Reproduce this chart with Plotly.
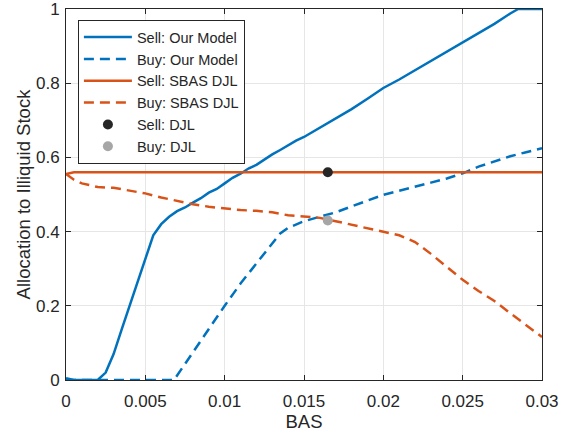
import plotly.graph_objects as go

# ---- data ----
sell_model_x = [0, 0.0005, 0.001, 0.0015, 0.002, 0.0025, 0.003, 0.0035, 0.004, 0.0045, 0.005,
                0.0055, 0.006, 0.0065, 0.007, 0.0075, 0.008, 0.0085, 0.009, 0.0095, 0.01,
                0.0105, 0.011, 0.0115, 0.012, 0.0125, 0.013, 0.0135, 0.014, 0.0145, 0.015,
                0.016, 0.017, 0.018, 0.019, 0.02, 0.021, 0.022, 0.023, 0.024, 0.025,
                0.026, 0.027, 0.028, 0.0285, 0.029, 0.03]
sell_model_y = [0.005, 0.0, 0.0, 0.0, 0.0, 0.02, 0.07, 0.135, 0.2, 0.265, 0.33,
                0.39, 0.42, 0.44, 0.455, 0.465, 0.478, 0.49, 0.505, 0.515, 0.53,
                0.545, 0.556, 0.57, 0.58, 0.595, 0.608, 0.62, 0.633, 0.645, 0.655,
                0.68, 0.705, 0.73, 0.758, 0.787, 0.81, 0.835, 0.86, 0.885, 0.911,
                0.935, 0.96, 0.988, 1.0, 1.0, 1.0]

buy_model_x = [0, 0.0065, 0.0068, 0.007, 0.008, 0.009, 0.01, 0.011, 0.012, 0.013, 0.0135,
               0.014, 0.0145, 0.015, 0.016, 0.017, 0.018, 0.019, 0.02, 0.021, 0.022,
               0.023, 0.024, 0.025, 0.026, 0.027, 0.028, 0.029, 0.03]
buy_model_y = [0.0, 0.0, 0.0, 0.012, 0.075, 0.14, 0.2, 0.26, 0.315, 0.37, 0.395,
               0.41, 0.42, 0.428, 0.44, 0.452, 0.468, 0.484, 0.499, 0.51, 0.52,
               0.532, 0.543, 0.557, 0.575, 0.59, 0.603, 0.614, 0.625]

sell_sbas_x = [0, 0.0005, 0.03]
sell_sbas_y = [0.555, 0.56, 0.56]

buy_sbas_x = [0, 0.0005, 0.001, 0.002, 0.003, 0.004, 0.005, 0.006, 0.007, 0.008, 0.009,
              0.01, 0.011, 0.012, 0.013, 0.014, 0.015, 0.016, 0.017, 0.018, 0.019,
              0.02, 0.021, 0.022, 0.023, 0.024, 0.025, 0.026, 0.027, 0.028, 0.029, 0.03]
buy_sbas_y = [0.555, 0.54, 0.53, 0.52, 0.518, 0.51, 0.503, 0.492, 0.482, 0.474, 0.467,
              0.462, 0.458, 0.456, 0.452, 0.444, 0.441, 0.437, 0.428, 0.418, 0.41,
              0.4, 0.39, 0.372, 0.34, 0.305, 0.27, 0.24, 0.213, 0.18, 0.148, 0.116]

sell_djl = (0.0165, 0.56)
buy_djl = (0.0165, 0.43)

x_ticks = [0, 0.005, 0.01, 0.015, 0.02, 0.025, 0.03]
x_tick_labels = ["0", "0.005", "0.01", "0.015", "0.02", "0.025", "0.03"]
y_ticks = [0, 0.2, 0.4, 0.6, 0.8, 1]
y_tick_labels = ["0", "0.2", "0.4", "0.6", "0.8", "1"]

BLUE = "#0072BD"
ORANGE = "#D95319"
AX = "#262626"
DASH = "10px,6px"
FONT = "Liberation Sans, Arial"

fig = go.Figure()
fig.add_trace(go.Scatter(x=sell_model_x, y=sell_model_y, mode="lines", name="Sell: Our Model",
                         line=dict(color=BLUE, width=2.5)))
fig.add_trace(go.Scatter(x=buy_model_x, y=buy_model_y, mode="lines", name="Buy: Our Model",
                         line=dict(color=BLUE, width=2.5, dash=DASH)))
fig.add_trace(go.Scatter(x=sell_sbas_x, y=sell_sbas_y, mode="lines", name="Sell: SBAS DJL",
                         line=dict(color=ORANGE, width=2.5)))
fig.add_trace(go.Scatter(x=buy_sbas_x, y=buy_sbas_y, mode="lines", name="Buy: SBAS DJL",
                         line=dict(color=ORANGE, width=2.5, dash=DASH)))
fig.add_trace(go.Scatter(x=[sell_djl[0]], y=[sell_djl[1]], mode="markers", name="Sell: DJL",
                         marker=dict(color="#262626", size=10)))
fig.add_trace(go.Scatter(x=[buy_djl[0]], y=[buy_djl[1]], mode="markers", name="Buy: DJL",
                         marker=dict(color="#A6A6A6", size=10)))

axis_common = dict(showline=True, linecolor=AX, linewidth=1, mirror="ticks",
                   ticks="inside", ticklen=5, tickcolor=AX, showgrid=True,
                   gridcolor="#E6E6E6", gridwidth=1, zeroline=False,
                   ticklabeloverflow="allow", automargin=False,
                   tickfont=dict(size=17, color=AX, family=FONT))

fig.update_layout(
    width=571, height=437,
    margin=dict(l=66, r=29, t=9, b=57),
    paper_bgcolor="white", plot_bgcolor="white",
    font=dict(family=FONT, color=AX),
    showlegend=True,
    legend=dict(x=0.025, y=0.97, xanchor="left", yanchor="top",
                bgcolor="white", bordercolor=AX, borderwidth=1, itemwidth=48,
                font=dict(size=14.5, color=AX), tracegroupgap=0),
    xaxis=dict(range=[0, 0.03], tickvals=x_ticks, ticktext=x_tick_labels, ticklabelstandoff=6,
               title=dict(text="BAS", font=dict(size=18.5, color=AX), standoff=2),
               **axis_common),
    yaxis=dict(range=[0, 1], tickvals=y_ticks, ticktext=y_tick_labels, ticklabelstandoff=2,
               title=dict(text="Allocation to Illiquid Stock", font=dict(size=18.5, color=AX), standoff=0),
               **axis_common),
)

fig.write_html("out.html")
